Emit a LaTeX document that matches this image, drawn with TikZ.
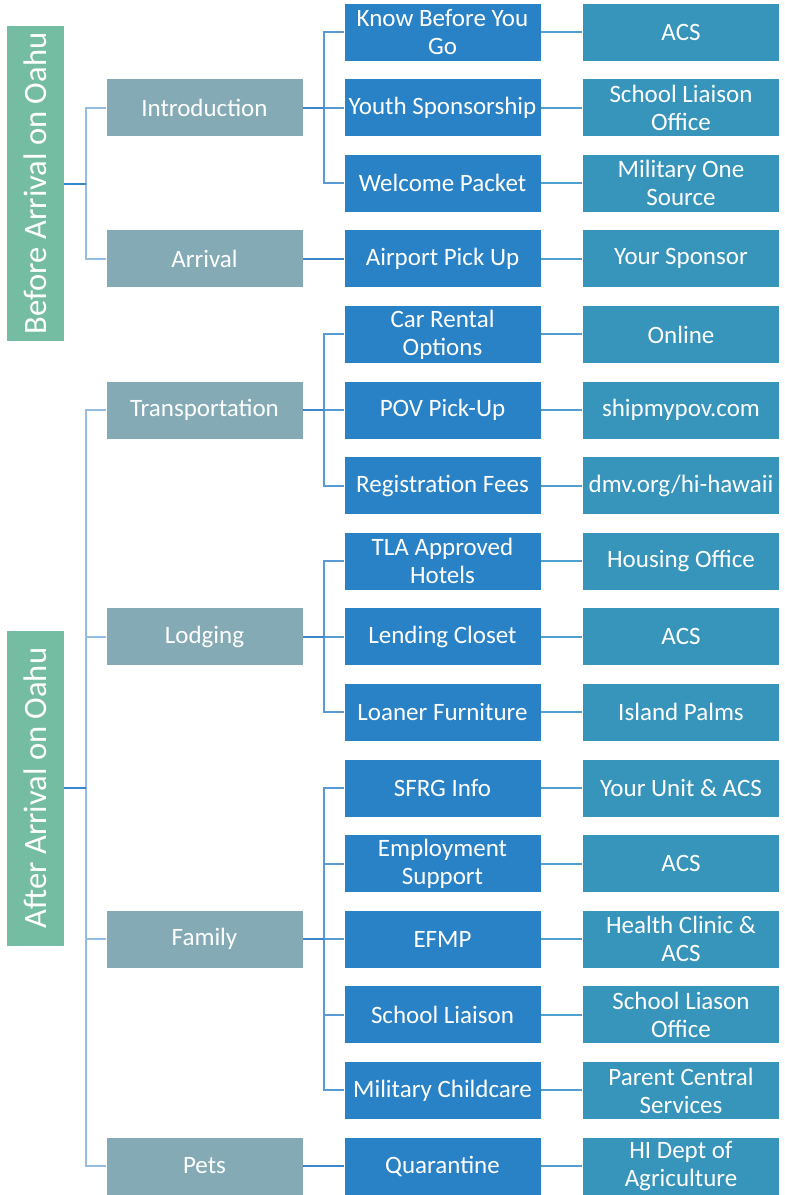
\documentclass[tikz,border=0pt]{standalone}
\usepackage{fontspec}
\setmainfont{Carlito}
\definecolor{rootc}{HTML}{75BDA2}
\definecolor{lvone}{HTML}{84ABB5}
\definecolor{lvtwo}{HTML}{2A82C6}
\definecolor{lvthree}{HTML}{3795BC}
\definecolor{lnlight}{HTML}{93BEE2}
\definecolor{lndark}{HTML}{3488CE}
\definecolor{lnmid}{HTML}{3A88CB}
\definecolor{lnthree}{HTML}{4F9FD0}
\tikzset{
  base/.style={draw=white, line width=0.8pt, inner sep=0pt, text=white, align=center,
    font=\fontsize{25}{28}\selectfont},
  rootbox/.style={base, fill=rootc, rotate=90, minimum width=316pt, minimum height=58pt,
    font=\fontsize{32.6}{36}\selectfont},
  onebox/.style={base, fill=lvone, minimum width=197pt, minimum height=58pt},
  twobox/.style={base, fill=lvtwo, minimum width=197pt, minimum height=58pt},
  threebox/.style={base, fill=lvthree, minimum width=197pt, minimum height=58pt},
  rootln/.style={draw=lndark, line width=2pt},
  rootbr/.style={draw=lnlight, line width=2pt},
  oneln/.style={draw=lnmid, line width=2pt},
  onebr/.style={draw=lnmid!85!white, line width=2pt},
  twoln/.style={draw=lnthree, line width=2pt}
}
\begin{document}
\begin{tikzpicture}[x=1pt,y=-1pt]
\useasboundingbox (0,0) rectangle (785,1195);
% roots
\node[rootbox] (before) at (35,183.5) {Before Arrival on Oahu};
\node[rootbox] (after) at (35,788) {After Arrival on Oahu};
% level 1
\node[onebox] (intro) at (204.5,107.6) {Introduction};
\node[onebox] (arrival) at (204.5,258.8) {Arrival};
\node[onebox] (transp) at (204.5,410) {Transportation};
\node[onebox] (lodging) at (204.5,636.8) {Lodging};
\node[onebox] (family) at (204.5,939.2) {Family};
\node[onebox] (pets) at (204.5,1166) {Pets};
% level 2
\node[twobox] (kbyg) at (442.5,32) {Know Before You\\Go};
\node[twobox] (youth) at (442.5,107.6) {Youth Sponsorship};
\node[twobox] (welcome) at (442.5,183.2) {Welcome Packet};
\node[twobox] (airport) at (442.5,258.8) {Airport Pick Up};
\node[twobox] (car) at (442.5,334.4) {Car Rental\\Options};
\node[twobox] (pov) at (442.5,410) {POV Pick-Up};
\node[twobox] (regfee) at (442.5,485.6) {Registration Fees};
\node[twobox] (tla) at (442.5,561.2) {TLA Approved\\Hotels};
\node[twobox] (lending) at (442.5,636.8) {Lending Closet};
\node[twobox] (loaner) at (442.5,712.4) {Loaner Furniture};
\node[twobox] (sfrg) at (442.5,788) {SFRG Info};
\node[twobox] (employ) at (442.5,863.6) {Employment\\Support};
\node[twobox] (efmp) at (442.5,939.2) {EFMP};
\node[twobox] (school) at (442.5,1014.8) {School Liaison};
\node[twobox] (childcare) at (442.5,1090.4) {Military Childcare};
\node[twobox] (quar) at (442.5,1166) {Quarantine};
% level 3
\node[threebox] (r1) at (681,32) {ACS};
\node[threebox] (r2) at (681,107.6) {School Liaison\\Office};
\node[threebox] (r3) at (681,183.2) {Military One\\Source};
\node[threebox] (r4) at (681,258.8) {Your Sponsor};
\node[threebox] (r5) at (681,334.4) {Online};
\node[threebox] (r6) at (681,410) {shipmypov.com};
\node[threebox] (r7) at (681,485.6) {dmv.org/hi-hawaii};
\node[threebox] (r8) at (681,561.2) {Housing Office};
\node[threebox] (r9) at (681,636.8) {ACS};
\node[threebox] (r10) at (681,712.4) {Island Palms};
\node[threebox] (r11) at (681,788) {Your Unit \& ACS};
\node[threebox] (r12) at (681,863.6) {ACS};
\node[threebox] (r13) at (681,939.2) {Health Clinic \&\\ACS};
\node[threebox] (r14) at (681,1014.8) {School Liason\\Office};
\node[threebox] (r15) at (681,1090.4) {Parent Central\\Services};
\node[threebox] (r16) at (681,1166) {HI Dept of\\Agriculture};
% root connectors
\draw[rootbr] (intro.west) -- ++(-20,0) |- (arrival.west);
\draw[rootln] (before.south) -- ++(22,0);
\draw[rootbr] (transp.west) -- ++(-20,0) |- (pets.west);
\draw[rootbr] (lodging.west) -- ++(-20,0);
\draw[rootbr] (family.west) -- ++(-20,0);
\draw[rootln] (after.south) -- ++(22,0);
% level 1 connectors
\draw[onebr] (kbyg.west) -- ++(-20,0) |- (welcome.west);
\draw[onebr] (youth.west) -- ++(-20,0);
\draw[oneln] (intro.east) -- ++(21,0);
\draw[oneln] (arrival.east) -- (airport.west);
\draw[onebr] (car.west) -- ++(-20,0) |- (regfee.west);
\draw[onebr] (pov.west) -- ++(-20,0);
\draw[oneln] (transp.east) -- ++(21,0);
\draw[onebr] (tla.west) -- ++(-20,0) |- (loaner.west);
\draw[onebr] (lending.west) -- ++(-20,0);
\draw[oneln] (lodging.east) -- ++(21,0);
\draw[onebr] (sfrg.west) -- ++(-20,0) |- (childcare.west);
\draw[onebr] (employ.west) -- ++(-20,0);
\draw[onebr] (efmp.west) -- ++(-20,0);
\draw[onebr] (school.west) -- ++(-20,0);
\draw[oneln] (family.east) -- ++(21,0);
\draw[oneln] (pets.east) -- (quar.west);
% level 2 connectors
\draw[twoln] (kbyg.east) -- (r1.west);
\draw[twoln] (youth.east) -- (r2.west);
\draw[twoln] (welcome.east) -- (r3.west);
\draw[twoln] (airport.east) -- (r4.west);
\draw[twoln] (car.east) -- (r5.west);
\draw[twoln] (pov.east) -- (r6.west);
\draw[twoln] (regfee.east) -- (r7.west);
\draw[twoln] (tla.east) -- (r8.west);
\draw[twoln] (lending.east) -- (r9.west);
\draw[twoln] (loaner.east) -- (r10.west);
\draw[twoln] (sfrg.east) -- (r11.west);
\draw[twoln] (employ.east) -- (r12.west);
\draw[twoln] (efmp.east) -- (r13.west);
\draw[twoln] (school.east) -- (r14.west);
\draw[twoln] (childcare.east) -- (r15.west);
\draw[twoln] (quar.east) -- (r16.west);
\end{tikzpicture}
\end{document}
